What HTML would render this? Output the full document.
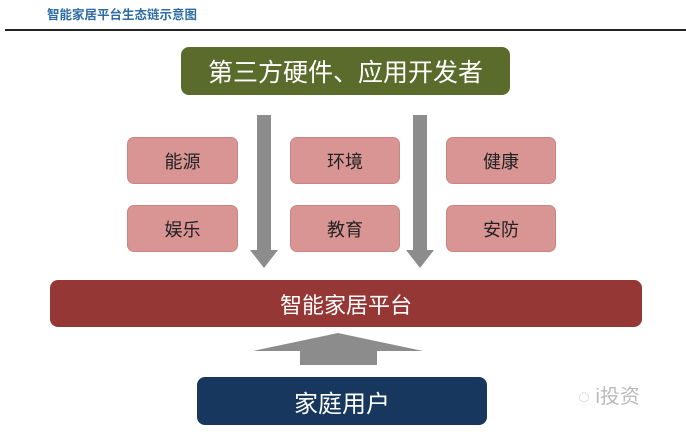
<!DOCTYPE html>
<html><head><meta charset="utf-8"><style>
body{margin:0;width:686px;height:432px;background:#fff;position:relative;overflow:hidden;font-family:"Liberation Sans","Noto Sans CJK SC",sans-serif}
.a{position:absolute;box-sizing:border-box;display:flex;align-items:center;justify-content:center}
.p{background:#d99594;border:1px solid #c98584;border-radius:7px;color:#222;font-size:18px}
</style></head><body>
<div class="a" style="left:47px;top:4px;color:#2d6ca3;font-size:12.5px;font-weight:bold;justify-content:flex-start">智能家居平台生态链示意图</div>
<div style="position:absolute;left:5px;top:29px;width:681px;height:2px;background:#222"></div>
<div class="a" style="left:181px;top:47px;width:329px;height:48px;background:#5a6b2b;border-radius:8px;color:#fff;font-size:25px">第三方硬件、应用开发者</div>
<svg style="position:absolute;left:0;top:0" width="686" height="432">
<polygon points="257,115 271,115 271,250 278,250 264,268 250,250 257,250" fill="#8c8c8c"/>
<polygon points="413,115 427,115 427,250 434,250 420,268 406,250 413,250" fill="#8c8c8c"/>
<polygon points="300,365 377,365 377,351 423,351 338,333 253,351 300,351" fill="#8c8c8c"/>
</svg>
<div class="a p" style="left:127px;top:137px;width:111px;height:47px">能源</div>
<div class="a p" style="left:290px;top:137px;width:110px;height:47px">环境</div>
<div class="a p" style="left:446px;top:137px;width:110px;height:47px">健康</div>
<div class="a p" style="left:127px;top:205px;width:111px;height:47px">娱乐</div>
<div class="a p" style="left:290px;top:205px;width:110px;height:47px">教育</div>
<div class="a p" style="left:446px;top:205px;width:110px;height:47px">安防</div>
<div class="a" style="left:50px;top:280px;width:592px;height:47px;background:#953734;border-radius:8px;color:#fff;font-size:22px">智能家居平台</div>
<div class="a" style="left:197px;top:377px;width:290px;height:48px;background:#17375e;border-radius:8px;color:#fff;font-size:24px">家庭用户</div>
<div class="a" style="left:578px;top:380px;color:#bbb;font-size:20px">◌ i投资</div>
</body></html>
